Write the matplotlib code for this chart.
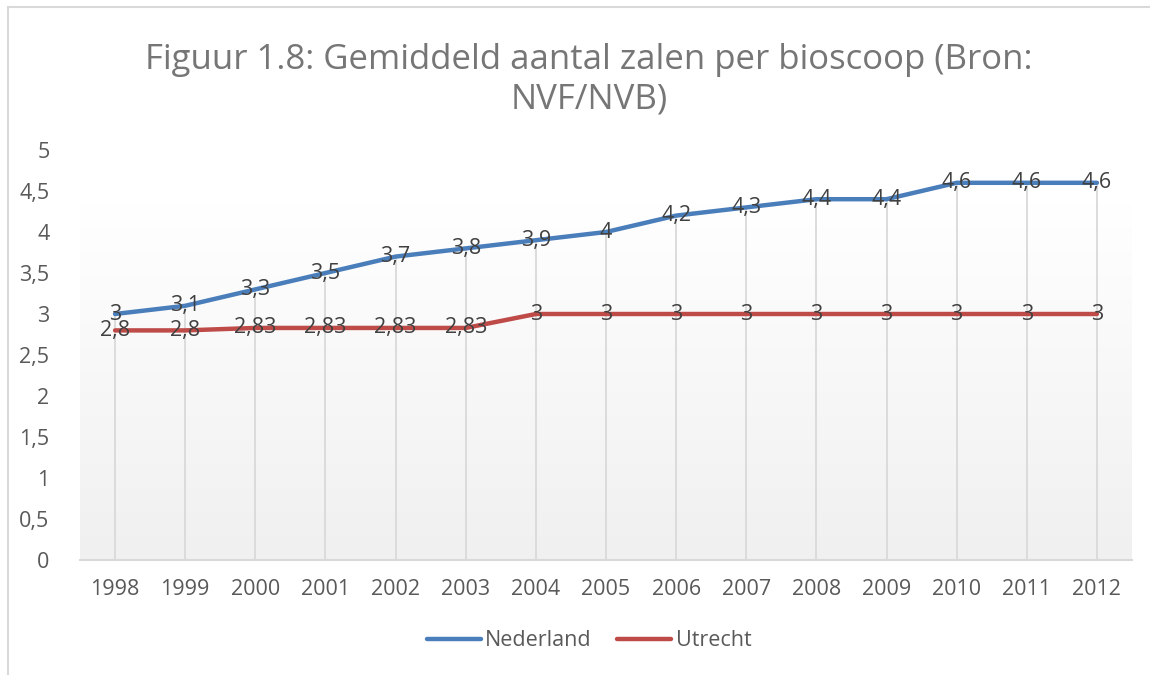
import matplotlib.pyplot as plt
import numpy as np

plt.rcParams['font.family'] = ['Open Sans', 'DejaVu Sans']

years = ["1998", "1999", "2000", "2001", "2002", "2003", "2004", "2005",
         "2006", "2007", "2008", "2009", "2010", "2011", "2012"]
nederland = [3, 3.1, 3.3, 3.5, 3.7, 3.8, 3.9, 4, 4.2, 4.3, 4.4, 4.4, 4.6, 4.6, 4.6]
utrecht = [2.8, 2.8, 2.83, 2.83, 2.83, 2.83, 3, 3, 3, 3, 3, 3, 3, 3, 3]

blue = "#4a7ebb"
red = "#be4b48"
grey_txt = "#595959"
label_txt = "#404040"

fig = plt.figure(figsize=(11.5, 6.75), dpi=100)
ax = fig.add_axes([80 / 1150, 1 - 560 / 675, 1052 / 1150, 410 / 675])

x = np.arange(len(years))
ax.set_xlim(-0.5, len(years) - 0.5)

# soft gradient behind the lines, Excel style
grad = np.linspace(0, 1, 256).reshape(-1, 1)
cmap = plt.matplotlib.colors.LinearSegmentedColormap.from_list("g", ["#ffffff", "#f0f0f0"])
ax.imshow(grad, extent=(-0.5, len(years) - 0.5, 0, 4.35), origin='upper',
          cmap=cmap, aspect='auto', zorder=0)
ax.set_ylim(0, 5)

# drop lines from the highest point down to the axis
tops = np.maximum(nederland, utrecht)
ax.vlines(x, 0, tops, color="#d9d9d9", lw=1.3, zorder=1)

ax.plot(x, nederland, color=blue, lw=3.2, solid_capstyle='round', label="Nederland", zorder=3)
ax.plot(x, utrecht, color=red, lw=3.2, solid_capstyle='round', label="Utrecht", zorder=3)

def fmt(v):
    return f"{v:g}".replace(".", ",")

for xi, v in zip(x, nederland):
    ax.text(xi, v, fmt(v), ha='center', va='center', fontsize=15.5, color=label_txt, zorder=4)
for xi, v in zip(x, utrecht):
    ax.text(xi, v, fmt(v), ha='center', va='center', fontsize=15.5, color=label_txt, zorder=4)

ax.set_xticks(x)
ax.set_xticklabels(years)
yt = np.arange(0, 5.01, 0.5)
ax.set_yticks(yt)
ax.set_yticklabels([fmt(v) for v in yt])
ax.tick_params(axis='both', length=0, labelsize=15.5, colors=grey_txt)
ax.tick_params(axis='y', pad=22)
ax.tick_params(axis='x', pad=14)

for s in ['top', 'right', 'left']:
    ax.spines[s].set_visible(False)
ax.spines['bottom'].set_color("#d9d9d9")
ax.spines['bottom'].set_linewidth(1.5)
ax.patch.set_alpha(0)

cx = 589 / 1150
fig.text(cx, 1 - 80 / 675, "Figuur 1.8: Gemiddeld aantal zalen per bioscoop (Bron:\nNVF/NVB)",
         ha='center', va='center', fontsize=25, color="#767676", linespacing=1.2)

fig.legend(loc='center', bbox_to_anchor=(cx, 1 - 641 / 675), ncol=2, frameon=False,
           fontsize=15.5, labelcolor=grey_txt, handlelength=2.5, handletextpad=0.2,
           columnspacing=1.2)

# outer chart border (top and left only visible)
fig.add_artist(plt.Line2D([8 / 1150, 1], [1 - 7 / 675, 1 - 7 / 675], color="#d9d9d9", lw=1.5))
fig.add_artist(plt.Line2D([8 / 1150, 8 / 1150], [0, 1 - 7 / 675], color="#d9d9d9", lw=1.5))

fig.savefig("out.png", dpi=100)
